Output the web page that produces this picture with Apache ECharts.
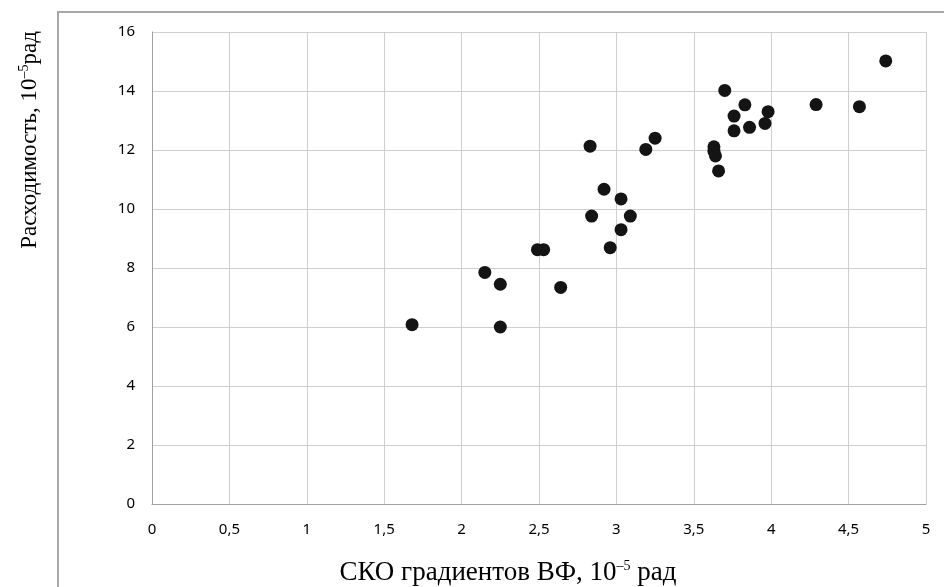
<!DOCTYPE html>
<html>
<head>
<meta charset="utf-8">
<script src="https://cdn.jsdelivr.net/npm/echarts@6/dist/echarts.min.js"></script>
<style>
  html, body { margin: 0; padding: 0; background: #fff; }
  #contain { width: 944px; height: 587px; }
</style>
</head>
<body>
<div id="contain"></div>
<script>
// СКО градиентов ВФ (x) и расходимость (y), 10^-5 рад
var skoValues = [1.68, 2.15, 2.25, 2.25, 2.49, 2.53, 2.64, 2.83, 2.84, 2.92,
    2.96, 3.03, 3.03, 3.09, 3.19, 3.25, 3.63, 3.63, 3.64, 3.66,
    3.70, 3.76, 3.76, 3.83, 3.86, 3.96, 3.98, 4.29, 4.57, 4.74];
var divergenceValues = [6.08, 7.85, 7.45, 6.00, 8.62, 8.62, 7.34, 12.13, 9.76, 10.67,
    8.69, 10.34, 9.30, 9.76, 12.02, 12.40, 12.11, 11.96, 11.80, 11.29,
    14.02, 13.15, 12.65, 13.53, 12.77, 12.90, 13.30, 13.54, 13.47, 15.02];
var xTicks = [0, 0.5, 1, 1.5, 2, 2.5, 3, 3.5, 4, 4.5, 5];
var yTicks = [0, 2, 4, 6, 8, 10, 12, 14, 16];

var points = [];
for (var i = 0; i < skoValues.length; i++) {
    points.push([skoValues[i], divergenceValues[i]]);
}

var supStyle = { fontSize: 14, fontFamily: 'Liberation Serif', color: '#000', verticalAlign: 'top', padding: [0, 0, 12, 0] };

var myChart = echarts.init(document.getElementById('contain'));
var option = {
    backgroundColor: '#fff',
    animation: false,
    grid: {
        left: 152,
        right: 18,
        top: 32,
        bottom: 83,
        outerBoundsMode: 'none'
    },
    graphic: [{
        type: 'rect',
        shape: { x: 58, y: 12, width: 920, height: 600 },
        style: { fill: 'none', stroke: '#a8a8a8', lineWidth: 2 },
        silent: true
    }, {
        type: 'text',
        x: 30,
        y: 140,
        rotation: Math.PI / 2,
        style: {
            text: 'Расходимость, 10{sup|–5}рад',
            font: '23px "Liberation Serif"',
            fill: '#000',
            align: 'center',
            verticalAlign: 'middle',
            rich: { sup: supStyle }
        }
    }],
    xAxis: {
        type: 'value',
        min: xTicks[0],
        max: xTicks[xTicks.length - 1],
        interval: 0.5,
        name: 'СКО градиентов ВФ, 10{sup|–5} рад',
        nameLocation: 'middle',
        nameGap: 55,
        nameTextStyle: {
            fontFamily: 'Liberation Serif',
            fontSize: 27,
            color: '#000',
            padding: [0, 62, 0, 0],
            rich: { sup: supStyle }
        },
        axisLine: { show: true, lineStyle: { color: '#a0a0a0', width: 1 } },
        axisTick: { show: false },
        axisLabel: {
            margin: 18,
            fontFamily: 'Noto Sans',
            fontSize: 15,
            color: '#000',
            formatter: function (v) { return String(v).replace('.', ','); }
        },
        splitLine: { show: true, lineStyle: { color: '#cfcfcf', width: 1 } }
    },
    yAxis: {
        type: 'value',
        min: yTicks[0],
        max: yTicks[yTicks.length - 1],
        interval: 2,
        axisLine: { show: true, lineStyle: { color: '#a0a0a0', width: 1 } },
        axisTick: { show: false },
        axisLabel: {
            margin: 17,
            fontFamily: 'Noto Sans',
            fontSize: 15,
            color: '#000'
        },
        splitLine: { show: true, lineStyle: { color: '#cfcfcf', width: 1 } }
    },
    series: [{
        type: 'scatter',
        data: points,
        symbol: 'circle',
        symbolSize: 13,
        itemStyle: { color: '#141414', opacity: 1 }
    }]
};
myChart.setOption(option);
</script>
</body>
</html>
